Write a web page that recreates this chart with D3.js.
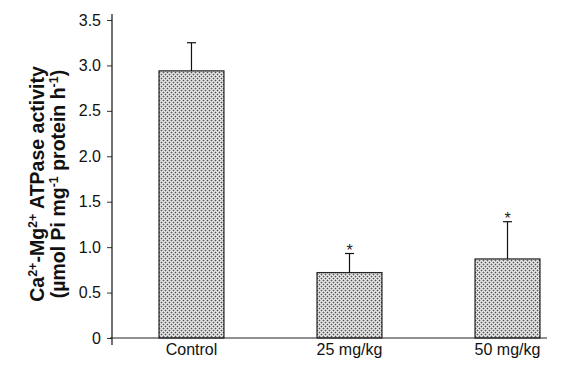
<!DOCTYPE html>
<html><head><meta charset="utf-8">
<script src="https://cdn.jsdelivr.net/npm/d3@7"></script>
<style>body{margin:0;background:#fff}svg{display:block}</style>
</head><body><svg id="c" width="563" height="365"></svg>
<script>
const categories = ["Control", "25 mg/kg", "50 mg/kg"];
const means = [2.94, 0.72, 0.87];
const errors = [0.31, 0.21, 0.41];
const significant = [false, true, true];
const yTicks = [0, 0.5, 1.0, 1.5, 2.0, 2.5, 3.0, 3.5];
const yTickLabels = ["0", "0.5", "1.0", "1.5", "2.0", "2.5", "3.0", "3.5"];

const svg = d3.select("#c");
const font = "Liberation Sans, Arial, sans-serif";

const defs = svg.append("defs");
const pat = defs.append("pattern").attr("id","dots").attr("patternUnits","userSpaceOnUse")
  .attr("width",4).attr("height",4);
const L = "#b4b4b4", W = "#efefef", D = "#555555";
const grid = [[L,W,L,D],[W,L,W,L],[L,D,L,W],[W,L,W,L]];
grid.forEach((row,r) => row.forEach((c,k) => {
  pat.append("rect").attr("x",k).attr("y",r).attr("width",1).attr("height",1).attr("fill",c);
}));

const x0 = 112, x1 = 547, yBase = 338;
const y = d3.scaleLinear().domain([0, 3.5]).range([yBase, 20]);
const x = d3.scaleBand().domain(categories).range([x0, x1])
  .paddingInner(0.589).paddingOuter(0.171).align(0.87);

// bars
svg.selectAll("rect.bar").data(categories).enter().append("rect")
  .attr("class","bar")
  .attr("x", d => x(d))
  .attr("width", x.bandwidth())
  .attr("y", (d,i) => y(means[i]))
  .attr("height", (d,i) => yBase - y(means[i]))
  .attr("fill","url(#dots)")
  .attr("stroke","#222").attr("stroke-width",1.2);

// error bars
const eb = svg.selectAll("g.eb").data(categories).enter().append("g");
eb.append("line")
  .attr("x1", d => x(d)+x.bandwidth()/2).attr("x2", d => x(d)+x.bandwidth()/2)
  .attr("y1", (d,i) => y(means[i])).attr("y2", (d,i) => y(means[i]+errors[i]))
  .attr("stroke","#111").attr("stroke-width",1.2);
eb.append("line")
  .attr("x1", d => x(d)+x.bandwidth()/2-4.5).attr("x2", d => x(d)+x.bandwidth()/2+4.5)
  .attr("y1", (d,i) => y(means[i]+errors[i])).attr("y2", (d,i) => y(means[i]+errors[i]))
  .attr("stroke","#111").attr("stroke-width",1.2);
eb.filter((d,i) => significant[i]).append("text")
  .attr("x", d => x(d)+x.bandwidth()/2)
  .attr("y", d => { const i = categories.indexOf(d); return y(means[i]+errors[i]) + 2; })
  .attr("text-anchor","middle").attr("font-family",font).attr("font-size",16).attr("fill","#222")
  .text("*");

// y axis
const yAxis = d3.axisLeft(y).tickValues(yTicks).tickFormat((d,i) => yTickLabels[i]).tickSize(5).tickPadding(6);
const gy = svg.append("g").attr("transform",`translate(${x0},0)`).call(yAxis);
gy.select(".domain").remove();
gy.selectAll("text").attr("font-family",font).attr("font-size",16).attr("fill","#111");
gy.selectAll("line").attr("stroke","#333");
svg.append("line").attr("x1",x0).attr("x2",x0).attr("y1",14).attr("y2",345).attr("stroke","#111").attr("stroke-width",1.2);

// x axis
svg.append("line").attr("x1",x0-2).attr("x2",x1).attr("y1",yBase).attr("y2",yBase).attr("stroke","#222").attr("stroke-width",1.2);
const xAxis = d3.axisBottom(x).tickSize(0).tickPadding(6);
const gx = svg.append("g").attr("transform",`translate(0,${yBase})`).call(xAxis);
gx.select(".domain").remove();
gx.selectAll("text").attr("font-family",font).attr("font-size",16).attr("fill","#111");

// y title
const title = svg.append("text").attr("transform","translate(44,184) rotate(-90)")
  .attr("text-anchor","middle").attr("font-family",font).attr("font-size",19.5).attr("font-weight","bold").attr("fill","#111");
title.append("tspan").text("Ca");
title.append("tspan").attr("font-size",12.5).attr("dy",-7).text("2+");
title.append("tspan").attr("dy",7).text("-Mg");
title.append("tspan").attr("font-size",12.5).attr("dy",-7).text("2+");
title.append("tspan").attr("dy",7).text(" ATPase activity");

const title2 = svg.append("text").attr("transform","translate(65,184) rotate(-90)")
  .attr("text-anchor","middle").attr("font-family",font).attr("font-size",19.5).attr("font-weight","bold").attr("fill","#111");
title2.append("tspan").text("(µmol Pi mg");
title2.append("tspan").attr("font-size",12.5).attr("dy",-7).text("-1");
title2.append("tspan").attr("dy",7).text(" protein h");
title2.append("tspan").attr("font-size",12.5).attr("dy",-7).text("-1");
title2.append("tspan").attr("dy",7).text(")");
</script>
</body></html>
